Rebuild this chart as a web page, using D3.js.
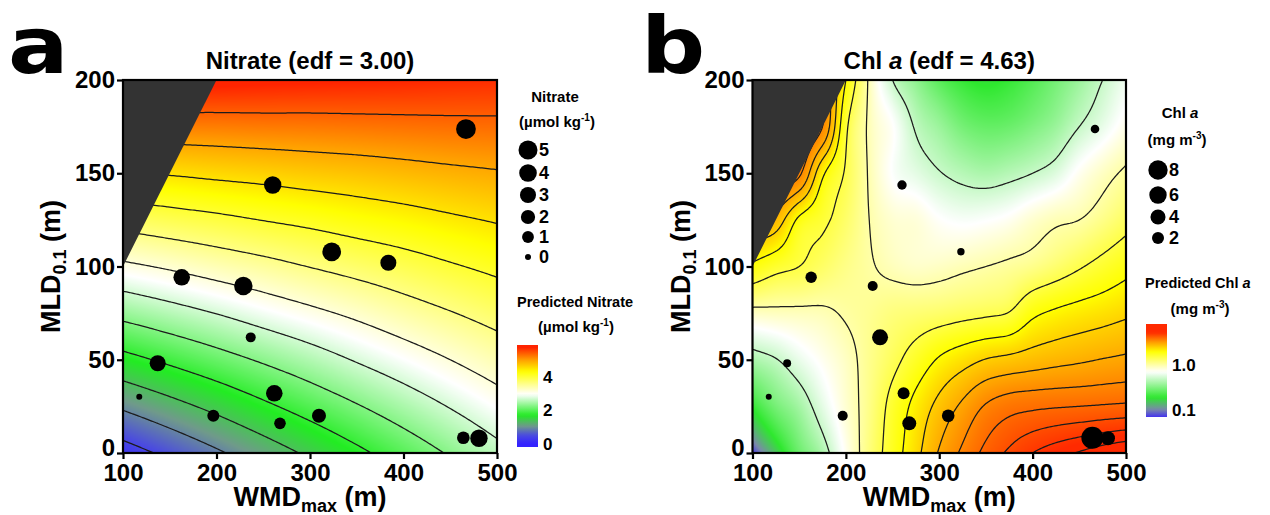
<!DOCTYPE html>
<html><head><meta charset="utf-8">
<script src="https://cdn.jsdelivr.net/npm/d3@7"></script>
<style>
body{margin:0;background:#fff;}
text{font-family:"Liberation Sans",Arial,sans-serif;font-weight:bold;fill:#000;}
</style>
</head><body>
<svg id="chart" width="1270" height="515" xmlns="http://www.w3.org/2000/svg"></svg>
<script>
// ---------------- data ----------------
const stationWMD = [466.8, 260.1, 323.2, 383.8, 162.8, 228.7, 236.6, 137.1, 117.4, 196.6, 261.8, 267.9, 309.6, 464.0, 480.7];
const stationMLD = [173.7, 143.7, 107.9, 102.0, 94.2, 89.5, 62.0, 48.1, 30.2, 20.0, 32.0, 15.9, 20.0, 8.2, 7.9];
const nitrateObs = [5.6, 3.85, 4.8, 2.96, 3.3, 4.6, 0.47, 3.0, 0.0, 1.07, 3.3, 0.93, 1.9, 1.3, 3.85];
const chlObs     = [0.58, 0.84, 0.29, null, 1.69, 1.07, 4.75, 0.42, 0.07, 1.07, 2.0, 3.2, 2.34, 11.1, 3.2];

const xTicks = [100, 200, 300, 400, 500];
const yTicks = [0, 50, 100, 150, 200];

// predicted nitrate surface (rows: MLD 0..200, cols: WMD 100..500)
const gridWMD_a = [100, 150, 200, 250, 300, 350, 400, 450, 500];
const gridMLD = [0, 25, 50, 75, 100, 125, 150, 175, 200];
const nitrateGrid = [
  [0.26, 0.55, 0.84, 1.13, 1.42, 1.71, 2.00, 2.29, 2.58],
  [0.96, 1.21, 1.46, 1.72, 1.97, 2.22, 2.47, 2.72, 2.97],
  [1.67, 1.88, 2.09, 2.30, 2.51, 2.73, 2.94, 3.15, 3.36],
  [2.37, 2.54, 2.71, 2.89, 3.06, 3.23, 3.41, 3.58, 3.75],
  [3.07, 3.20, 3.34, 3.47, 3.61, 3.74, 3.87, 4.01, 4.14],
  [3.77, 3.87, 3.96, 4.06, 4.15, 4.25, 4.34, 4.44, 4.53],
  [4.48, 4.53, 4.59, 4.64, 4.70, 4.75, 4.81, 4.87, 4.92],
  [5.18, 5.20, 5.21, 5.23, 5.24, 5.26, 5.28, 5.30, 5.31],
  [5.88, 5.86, 5.84, 5.81, 5.79, 5.77, 5.75, 5.72, 5.70]
];
const nitrateLevels = [0.45, 0.9, 1.35, 1.8, 2.25, 2.7, 3.15, 3.6, 4.05, 4.5, 4.95, 5.4];

// predicted Chl a surface (mg m-3)
const gridWMD_b = [100, 125, 150, 175, 200, 225, 250, 275, 300, 325, 350, 375, 400, 425, 450, 475, 500];
const chlGrid = [
  [0.07,0.15,0.28,0.42,0.75,1.20,1.75,2.35,3.05,3.60,4.15,4.60,5.00,5.30,5.55,5.80,6.00],
  [0.20,0.30,0.40,0.60,0.85,1.15,1.65,2.15,2.65,3.10,3.55,3.80,3.90,3.96,4.00,4.05,4.10],
  [0.42,0.49,0.62,0.75,0.90,1.12,1.38,1.70,2.05,2.30,2.52,2.63,2.75,2.85,2.93,3.02,3.10],
  [0.90,0.92,0.93,0.95,1.03,1.10,1.20,1.25,1.30,1.37,1.43,1.52,1.90,2.08,2.20,2.30,2.42],
  [1.90,1.65,1.50,1.32,1.15,1.03,0.93,0.88,0.90,0.95,1.00,1.06,1.14,1.28,1.46,1.65,1.85],
  [3.00,2.80,1.90,1.60,1.30,1.00,0.85,0.82,0.72,0.68,0.70,0.75,0.86,0.95,1.00,1.15,1.35],
  [3.20,3.80,3.60,2.10,1.45,0.97,0.70,0.60,0.51,0.45,0.42,0.45,0.50,0.58,0.75,0.90,1.05],
  [3.00,3.80,4.00,3.50,1.60,0.95,0.72,0.48,0.38,0.30,0.27,0.28,0.32,0.38,0.50,0.62,0.78],
  [2.60,3.40,3.80,3.40,2.00,0.95,0.50,0.35,0.25,0.20,0.18,0.20,0.24,0.30,0.38,0.50,0.65]
];
const chlLevels = [0.5, 1.0, 1.5, 2.0, 2.5, 3.0, 3.5, 4.0, 4.5, 5.0, 5.5];

// excluded region (MLD > WMD)
const excludedWMD = [100, 100, 200];
const excludedMLD = [100, 200, 200];

const nitrateSizeLegend = [5, 4, 3, 2, 1, 0];
const chlSizeLegend = [8, 6, 4, 2];
const nitrateBarTicks = [0, 2, 4];
const chlBarTicks = [0.1, 1.0];

// colour stops
const nitrateStops = [[0, "#3322ff"], [0.5, "#4a4ae0"], [1.05, "#6f9a8a"], [1.7, "#22ec22"], [2.95, "#ffffff"], [4.3, "#ffff00"], [5.0, "#ffa000"], [5.75, "#ff2400"]];
const chlLogStops = [[-1.15, "#4433ee"], [-0.98, "#7a8aa8"], [-0.72, "#2ee82e"], [-0.15, "#ffffff"], [0.3, "#ffff00"], [0.5, "#ffa000"], [0.72, "#ff2a00"]];

// ---------------- helpers ----------------
const svg = d3.select("#chart");
const defs = svg.append("defs");

function makeInterp(gx, gy, grid) {
  const nx = gx.length, ny = gy.length;
  const dx = (gx[nx - 1] - gx[0]) / (nx - 1), dy = (gy[ny - 1] - gy[0]) / (ny - 1);
  function g(i, j) {
    if (i < 0) return 2 * g(0, j) - g(1, j);
    if (i > nx - 1) return 2 * g(nx - 1, j) - g(nx - 2, j);
    if (j < 0) return 2 * g(i, 0) - g(i, 1);
    if (j > ny - 1) return 2 * g(i, ny - 1) - g(i, ny - 2);
    return grid[j][i];
  }
  function cr(p0, p1, p2, p3, t) {
    return p1 + 0.5 * t * (p2 - p0 + t * (2 * p0 - 5 * p1 + 4 * p2 - p3 + t * (3 * (p1 - p2) + p3 - p0)));
  }
  return function (x, y) {
    let u = (x - gx[0]) / dx, v = (y - gy[0]) / dy;
    u = Math.max(0, Math.min(nx - 1 - 1e-9, u));
    v = Math.max(0, Math.min(ny - 1 - 1e-9, v));
    const i = Math.floor(u), j = Math.floor(v), tu = u - i, tv = v - j;
    const r = [];
    for (let m = -1; m <= 2; m++) r.push(cr(g(i - 1, j + m), g(i, j + m), g(i + 1, j + m), g(i + 2, j + m), tu));
    return cr(r[0], r[1], r[2], r[3], tv);
  };
}

function makeColor(stops) {
  const sc = d3.scaleLinear().domain(stops.map(s => s[0])).range(stops.map(s => s[1]))
    .interpolate(d3.interpolateRgb).clamp(true);
  const lo = stops[0][0], hi = stops[stops.length - 1][0], N = 2048;
  const lut = [];
  for (let k = 0; k < N; k++) { const c = d3.rgb(sc(lo + (hi - lo) * k / (N - 1))); lut.push([c.r, c.g, c.b]); }
  const fn = v => { let k = Math.round((v - lo) / (hi - lo) * (N - 1)); k = Math.max(0, Math.min(N - 1, k)); return lut[k]; };
  fn.scale = sc;
  return fn;
}

function drawPanel(cfg) {
  const xs = d3.scaleLinear().domain([100, 500]).range([cfg.left, cfg.right]);
  const ys = d3.scaleLinear().domain([0, 200]).range([cfg.bottom, cfg.top]);
  const g = svg.append("g");
  const clipId = "clip" + cfg.id;
  defs.append("clipPath").attr("id", clipId).append("rect")
    .attr("x", xs(100)).attr("y", ys(200)).attr("width", xs(500) - xs(100)).attr("height", ys(0) - ys(200));

  const f = makeInterp(cfg.gx, gridMLD, cfg.grid);
  // raster
  const W = Math.round(xs(500) - xs(100)), H = Math.round(ys(0) - ys(200));
  const cv = document.createElement("canvas"); cv.width = W; cv.height = H;
  const ctx = cv.getContext("2d"); const img = ctx.createImageData(W, H);
  for (let py = 0; py < H; py++) {
    for (let px = 0; px < W; px++) {
      const x = 100 + (px + 0.5) / W * 400, y = 200 - (py + 0.5) / H * 200;
      const c = cfg.colorOf(f(x, y));
      const o = (py * W + px) * 4;
      img.data[o] = c[0]; img.data[o + 1] = c[1]; img.data[o + 2] = c[2]; img.data[o + 3] = 255;
    }
  }
  ctx.putImageData(img, 0, 0);
  const pg = g.append("g").attr("clip-path", `url(#${clipId})`);
  pg.append("image").attr("href", cv.toDataURL()).attr("x", xs(100)).attr("y", ys(200))
    .attr("width", xs(500) - xs(100)).attr("height", ys(0) - ys(200)).attr("preserveAspectRatio", "none");

  // contours
  const NX = 201, NY = 201;
  const vals = new Float64Array(NX * NY);
  for (let j = 0; j < NY; j++) for (let i = 0; i < NX; i++)
    vals[j * NX + i] = f(100 + i * 400 / (NX - 1), j * 200 / (NY - 1));
  const cs = d3.contours().size([NX, NY]).thresholds(cfg.levels)(vals);
  const proj = d3.geoTransform({
    point: function (cx, cy) {
      this.stream.point(xs(100 + (cx - 0.5) * 400 / (NX - 1)), ys((cy - 0.5) * 200 / (NY - 1)));
    }
  });
  const path = d3.geoPath(proj);
  pg.selectAll("path.ct").data(cs).join("path").attr("class", "ct").attr("d", path)
    .attr("fill", "none").attr("stroke", "#1c1c1c").attr("stroke-width", 1.25);

  // excluded region
  pg.append("polygon")
    .attr("points", excludedWMD.map((w, k) => [xs(w), ys(excludedMLD[k])].join(",")).join(" "))
    .attr("fill", "#333333");

  // observations
  const pts = stationWMD.map((w, k) => ({ x: w, y: stationMLD[k], v: cfg.obs[k] })).filter(d => d.v !== null);
  pg.selectAll("circle.obs").data(pts).join("circle").attr("class", "obs")
    .attr("cx", d => xs(d.x)).attr("cy", d => ys(d.y)).attr("r", d => cfg.rScale(d.v)).attr("fill", "#000");

  // frame and axes
  g.append("rect").attr("x", xs(100)).attr("y", ys(200)).attr("width", xs(500) - xs(100)).attr("height", ys(0) - ys(200))
    .attr("fill", "none").attr("stroke", "#000").attr("stroke-width", 2.2);
  const ax = g.append("g").attr("transform", `translate(0,${ys(0)})`)
    .call(d3.axisBottom(xs).tickValues(xTicks).tickSize(6).tickPadding(5).tickFormat(d3.format("d")));
  const ay = g.append("g").attr("transform", `translate(${xs(100)},0)`)
    .call(d3.axisLeft(ys).tickValues(yTicks).tickSize(6).tickPadding(2).tickFormat(d3.format("d")));
  [ax, ay].forEach(a => {
    a.select(".domain").remove();
    a.selectAll(".tick line").attr("stroke", "#000").attr("stroke-width", 2.2);
    a.selectAll(".tick text").style("font-size", "24px").style("font-weight", "bold")
      .style("font-family", '"Liberation Sans", Arial, sans-serif').attr("fill", "#000");
  });
  ay.selectAll(".tick text").filter(d => d === 0).attr("dy", "0.12em");

  // titles
  const cxm = (xs(100) + xs(500)) / 2;
  const t = g.append("text").attr("x", cxm).attr("y", 69).attr("text-anchor", "middle").style("font-size", "24px");
  cfg.title.forEach(p => t.append("tspan").text(p.t).style("font-style", p.i ? "italic" : "normal"));

  const xl = g.append("text").attr("x", cxm).attr("y", 506).attr("text-anchor", "middle").style("font-size", "27px");
  xl.append("tspan").text("WMD");
  xl.append("tspan").text("max").style("font-size", "18px").attr("dy", 6);
  xl.append("tspan").text(" (m)").attr("dy", -6);

  const yl = g.append("text").attr("transform", `translate(${cfg.ylabX},${(ys(0) + ys(200)) / 2}) rotate(-90)`)
    .attr("text-anchor", "middle").style("font-size", "27px");
  yl.append("tspan").text("MLD");
  yl.append("tspan").text("0.1").style("font-size", "18px").attr("dy", 6);
  yl.append("tspan").text(" (m)").attr("dy", -6);

  // panel letter
  g.append("text").attr("transform", `translate(${cfg.letterX},73) scale(1.15,1)`).text(cfg.letter)
    .style("font-family", '"DejaVu Sans", sans-serif').style("font-size", "78px").style("font-weight", "bold");

  // size legend
  const L = cfg.legend;
  const lt1 = g.append("text").attr("x", L.titleX).attr("y", L.titleY).attr("text-anchor", "middle").style("font-size", "15px");
  L.title.forEach(p => lt1.append("tspan").text(p.t).style("font-style", p.i ? "italic" : "normal"));
  unitText(g, L.unitX, L.unitY, L.unit, L.sup);
  const sl = g.append("g");
  L.sizes.forEach((v, k) => {
    const cy = L.sizeY[k];
    sl.append("circle").attr("cx", L.circX).attr("cy", cy).attr("r", cfg.rScale(v)).attr("fill", "#000");
    sl.append("text").attr("x", L.circX + 11).attr("y", cy).attr("dy", "0.36em").style("font-size", "18px").text(v);
  });

  // colour bar
  const B = cfg.bar;
  const pt = g.append("text").attr("x", B.titleX).attr("y", B.titleY).style("font-size", "14.5px");
  B.title.forEach(p => pt.append("tspan").text(p.t).style("font-style", p.i ? "italic" : "normal"));
  unitText(g, B.unitX, B.unitY, L.unit, L.sup);
  const gid = "grad" + cfg.id;
  const grad = defs.append("linearGradient").attr("id", gid).attr("x1", 0).attr("y1", 1).attr("x2", 0).attr("y2", 0);
  const bs = d3.scaleLinear().domain(B.domain).range([B.y1, B.y0]);
  for (let k = 0; k <= 40; k++) {
    const v = B.domain[0] + (B.domain[1] - B.domain[0]) * k / 40;
    grad.append("stop").attr("offset", k / 40).attr("stop-color", cfg.barColor(v));
  }
  g.append("rect").attr("x", B.x).attr("y", B.y0).attr("width", B.w).attr("height", B.y1 - B.y0).attr("fill", `url(#${gid})`);
  B.ticks.forEach(v => {
    g.append("text").attr("x", B.x + B.w + 5).attr("y", bs(B.tickPos(v))).attr("dy", "0.36em")
      .style("font-size", "17px").text(B.tickFmt(v));
  });
}

function unitText(g, x, y, unit, sup) {
  const u = g.append("text").attr("x", x).attr("y", y).attr("text-anchor", "middle").style("font-size", "15px");
  u.append("tspan").text(unit);
  u.append("tspan").text(sup).style("font-size", "10px").attr("dy", -6);
  u.append("tspan").text(")").attr("dy", 6);
}

// ---------------- panel a ----------------
const nitrateColor = makeColor(nitrateStops);
drawPanel({
  id: "a", letter: "a", letterX: 8, left: 123, right: 497, top: 80, bottom: 453, ylabX: 60,
  gx: gridWMD_a, grid: nitrateGrid, levels: nitrateLevels, obs: nitrateObs,
  colorOf: v => nitrateColor(v),
  rScale: d3.scaleSqrt().domain([0, 5]).range([3, 9.5]).clamp(false),
  title: [{ t: "Nitrate (edf = 3.00)" }],
  legend: {
    title: [{ t: "Nitrate" }], titleX: 555, titleY: 102, unit: "(µmol kg", sup: "-1", unitX: 557, unitY: 127,
    sizes: nitrateSizeLegend, sizeY: [150, 173, 195, 217, 237, 257], circX: 528
  },
  bar: {
    title: [{ t: "Predicted Nitrate" }], titleX: 517, titleY: 307, unitX: 576, unitY: 332,
    x: 517, w: 21, y0: 345, y1: 447, domain: [-0.2, 5.9], ticks: nitrateBarTicks,
    tickPos: v => v, tickFmt: v => String(v)
  },
  barColor: v => nitrateColor.scale(v)
});

// ---------------- panel b ----------------
const chlColor = makeColor(chlLogStops);
const chlRS = d3.scaleSqrt().domain([0, 8]).range([0, 7.4]);
drawPanel({
  id: "b", letter: "b", letterX: 641, left: 752.5, right: 1126, top: 80, bottom: 453, ylabX: 690,
  gx: gridWMD_b, grid: chlGrid, levels: chlLevels, obs: chlObs,
  colorOf: v => chlColor(Math.log10(Math.max(0.06, v))),
  rScale: v => 2.3 + chlRS(v),
  title: [{ t: "Chl " }, { t: "a", i: true }, { t: " (edf = 4.63)" }],
  legend: {
    title: [{ t: "Chl " }, { t: "a", i: true }], titleX: 1180, titleY: 118, unit: "(mg m", sup: "-3", unitX: 1177, unitY: 145,
    sizes: chlSizeLegend, sizeY: [170, 195, 217, 238], circX: 1158
  },
  bar: {
    title: [{ t: "Predicted Chl " }, { t: "a", i: true }], titleX: 1145, titleY: 288, unitX: 1200, unitY: 314,
    x: 1146, w: 21, y0: 324, y1: 417, domain: [-1.15, 0.91], ticks: chlBarTicks,
    tickPos: v => Math.log10(v), tickFmt: v => v.toFixed(1)
  },
  barColor: v => chlColor.scale(v)
});
</script>
</body></html>
